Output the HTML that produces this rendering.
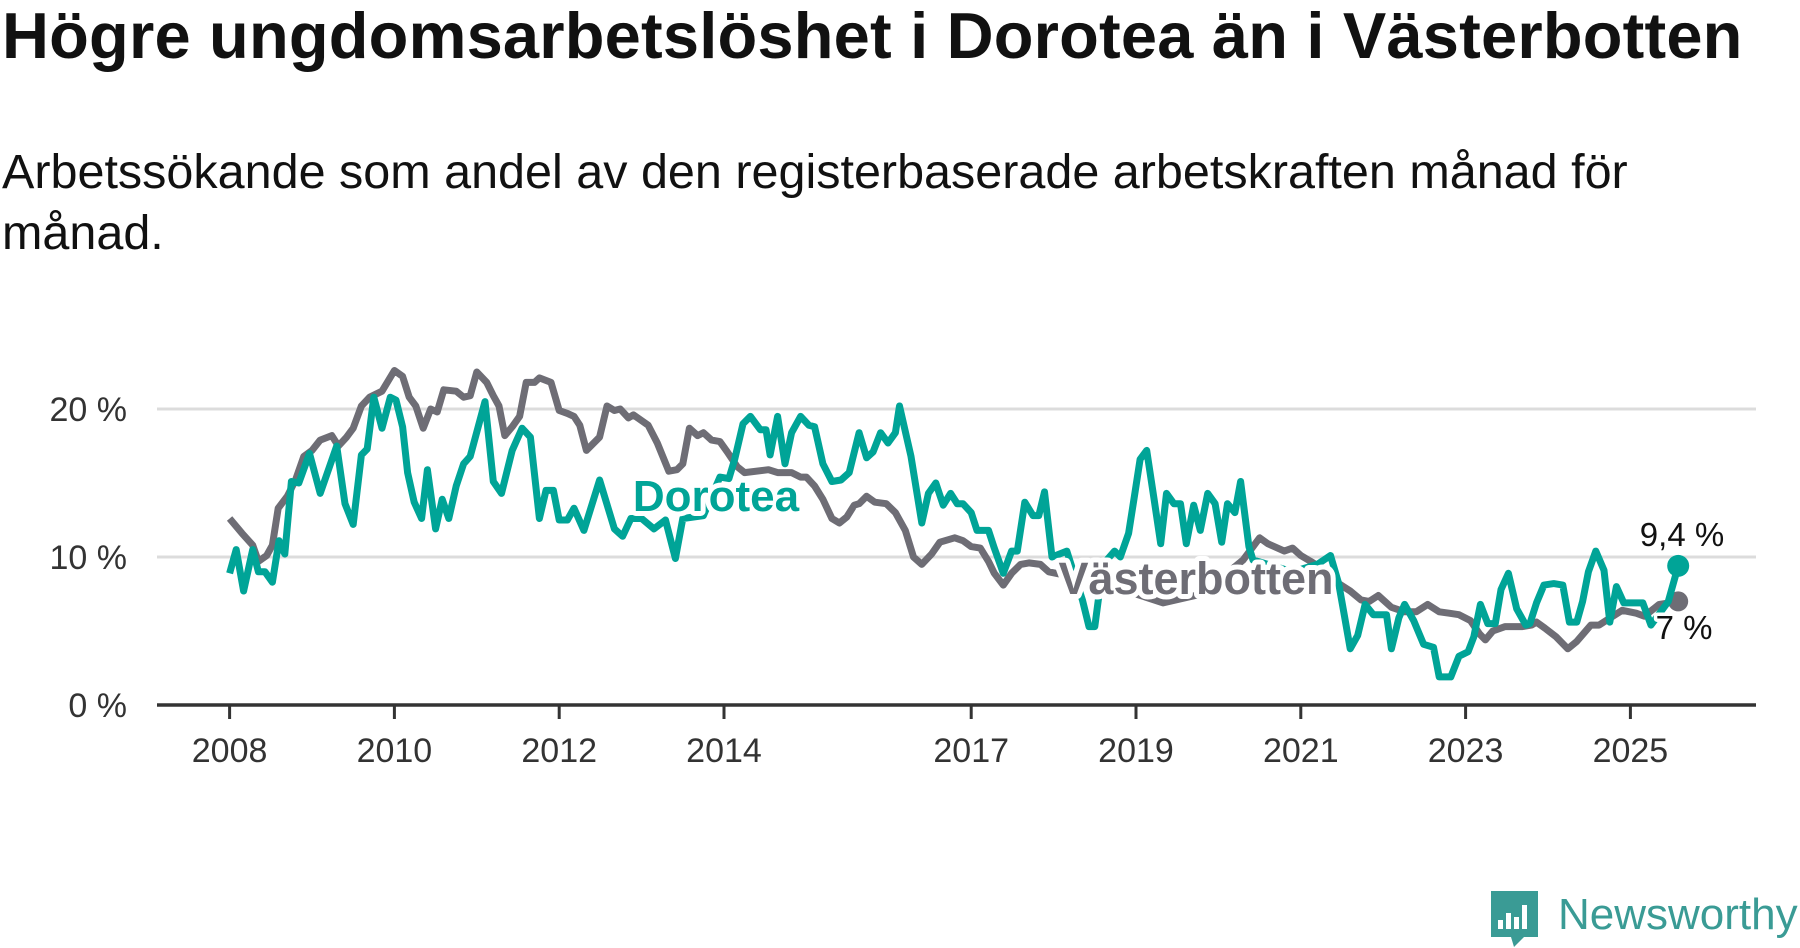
<!DOCTYPE html>
<html><head><meta charset="utf-8">
<style>
html,body{margin:0;padding:0;background:#fff;}
body{width:1800px;height:948px;overflow:hidden;position:relative;font-family:"Liberation Sans",sans-serif;}
#title{position:absolute;left:2px;top:-2px;font-size:65px;font-weight:bold;color:#111;white-space:nowrap;letter-spacing:0.2px;}
#subtitle{position:absolute;left:2px;top:142px;font-size:48.5px;line-height:61px;color:#111;white-space:nowrap;}
svg{position:absolute;left:0;top:0;}
</style></head>
<body>
<div id="title">Högre ungdomsarbetslöshet i Dorotea än i Västerbotten</div>
<div id="subtitle">Arbetssökande som andel av den registerbaserade arbetskraften månad för<br>månad.</div>
<svg id="chart" width="1800" height="948"></svg>
<script>
const yTicks=[0,10,20];
const yTickLabels=["0 %","10 %","20 %"];
const xTicks=[2008,2010,2012,2014,2017,2019,2021,2023,2025];
const grayDates=[2008.0,2008.15,2008.28,2008.35,2008.45,2008.52,2008.59,2008.7,2008.8,2008.9,2009.0,2009.1,2009.24,2009.32,2009.42,2009.5,2009.6,2009.7,2009.85,2010.0,2010.1,2010.18,2010.26,2010.35,2010.44,2010.52,2010.6,2010.75,2010.84,2010.92,2011.0,2011.12,2011.2,2011.27,2011.34,2011.43,2011.52,2011.6,2011.7,2011.76,2011.9,2012.0,2012.1,2012.18,2012.25,2012.33,2012.49,2012.58,2012.67,2012.74,2012.84,2012.9,2013.08,2013.19,2013.33,2013.43,2013.5,2013.58,2013.68,2013.75,2013.85,2013.95,2014.04,2014.16,2014.25,2014.54,2014.65,2014.82,2014.93,2015.0,2015.1,2015.2,2015.31,2015.4,2015.49,2015.58,2015.64,2015.73,2015.83,2015.97,2016.08,2016.2,2016.3,2016.4,2016.52,2016.62,2016.8,2016.9,2017.0,2017.11,2017.21,2017.28,2017.39,2017.49,2017.6,2017.7,2017.84,2017.94,2018.2,2018.6,2019.0,2019.33,2019.8,2020.3,2020.5,2020.6,2020.8,2020.9,2021.0,2021.15,2021.46,2021.6,2021.73,2021.83,2021.94,2022.1,2022.26,2022.4,2022.54,2022.68,2022.8,2022.92,2023.06,2023.17,2023.24,2023.33,2023.48,2023.69,2023.8,2023.86,2023.96,2024.1,2024.24,2024.35,2024.52,2024.62,2024.76,2024.9,2025.07,2025.17,2025.35,2025.58];
const grayValues=[12.6,11.6,10.8,9.7,10.1,10.8,13.3,14.1,15.2,16.8,17.2,17.9,18.2,17.5,18.1,18.7,20.2,20.8,21.2,22.6,22.2,20.8,20.2,18.7,20,19.8,21.3,21.2,20.8,20.9,22.5,21.8,20.9,20.2,18.2,18.8,19.5,21.8,21.8,22.1,21.8,19.9,19.7,19.5,18.9,17.2,18.1,20.2,19.9,20,19.4,19.6,18.9,17.7,15.8,15.9,16.3,18.7,18.2,18.4,17.9,17.8,17.1,16.1,15.7,15.9,15.7,15.7,15.4,15.4,14.8,13.9,12.6,12.3,12.7,13.5,13.6,14.1,13.7,13.6,13,11.8,10,9.5,10.2,11,11.3,11.1,10.7,10.6,9.7,8.9,8.1,8.9,9.5,9.6,9.5,9,8.7,8,7.5,6.9,7.5,9.8,11.3,10.9,10.4,10.6,10.1,9.6,8.2,7.7,7.1,7,7.4,6.6,6.3,6.3,6.8,6.3,6.2,6.1,5.7,4.8,4.4,5,5.3,5.3,5.4,5.6,5.2,4.6,3.8,4.3,5.4,5.4,5.9,6.4,6.2,6,6.8,7];
const tealDates=[2008.0,2008.08,2008.17,2008.28,2008.35,2008.43,2008.52,2008.6,2008.67,2008.75,2008.84,2008.97,2009.1,2009.3,2009.4,2009.5,2009.6,2009.67,2009.75,2009.85,2009.95,2010.02,2010.1,2010.16,2010.24,2010.33,2010.4,2010.5,2010.58,2010.66,2010.75,2010.84,2010.92,2011.1,2011.2,2011.3,2011.43,2011.55,2011.65,2011.76,2011.84,2011.93,2012.0,2012.1,2012.18,2012.3,2012.49,2012.67,2012.77,2012.87,2013.0,2013.15,2013.29,2013.41,2013.5,2013.75,2013.95,2014.06,2014.13,2014.23,2014.32,2014.44,2014.51,2014.56,2014.65,2014.74,2014.82,2014.93,2015.03,2015.1,2015.2,2015.31,2015.42,2015.52,2015.64,2015.73,2015.81,2015.9,2015.99,2016.08,2016.13,2016.27,2016.4,2016.48,2016.57,2016.66,2016.75,2016.83,2016.9,2017.0,2017.07,2017.21,2017.28,2017.39,2017.49,2017.56,2017.65,2017.75,2017.82,2017.89,2017.98,2018.16,2018.35,2018.43,2018.5,2018.6,2018.74,2018.81,2018.91,2018.98,2019.05,2019.13,2019.22,2019.3,2019.37,2019.46,2019.54,2019.61,2019.7,2019.78,2019.87,2019.96,2020.04,2020.11,2020.2,2020.27,2020.37,2020.42,2020.6,2020.9,2021.2,2021.36,2021.46,2021.53,2021.6,2021.69,2021.78,2021.88,2022.04,2022.1,2022.19,2022.26,2022.37,2022.49,2022.61,2022.68,2022.82,2022.92,2023.03,2023.1,2023.18,2023.27,2023.36,2023.43,2023.52,2023.62,2023.73,2023.78,2023.86,2023.95,2024.07,2024.18,2024.26,2024.35,2024.42,2024.49,2024.58,2024.68,2024.75,2024.83,2024.92,2025.04,2025.15,2025.25,2025.46,2025.58];
const tealValues=[8.9,10.5,7.7,10.5,9,9,8.3,11.1,10.2,15.1,15,17,14.3,17.5,13.6,12.2,16.9,17.3,20.8,18.7,20.8,20.6,18.8,15.7,13.7,12.6,15.9,11.9,13.9,12.6,14.8,16.3,16.8,20.5,15.1,14.3,17.2,18.7,18.1,12.6,14.5,14.5,12.5,12.5,13.3,11.8,15.2,11.9,11.4,12.6,12.6,11.9,12.5,9.9,12.6,12.8,15.4,15.3,16.6,19,19.5,18.6,18.6,16.9,19.5,16.3,18.4,19.5,18.9,18.8,16.3,15.1,15.2,15.7,18.4,16.7,17.1,18.4,17.7,18.4,20.2,16.8,12.3,14.3,15,13.5,14.3,13.6,13.6,13,11.8,11.8,10.6,8.9,10.4,10.4,13.7,12.8,12.8,14.4,10,10.4,7.1,5.3,5.3,9.5,10.4,10,11.6,14.1,16.6,17.2,13.9,10.9,14.3,13.6,13.6,10.9,13.5,11.8,14.3,13.6,11,13.6,13,15.1,10.7,9.8,9.5,9,9.5,10.1,8.2,6,3.8,4.7,6.8,6.1,6.1,3.8,5.9,6.8,5.7,4.1,3.9,1.9,1.9,3.3,3.6,4.6,6.8,5.5,5.5,7.8,8.9,6.5,5.4,5.5,6.9,8.1,8.2,8.1,5.6,5.6,7,9,10.4,9.1,5.6,8,6.9,6.9,6.9,5.4,7,9.4];

const NS='http://www.w3.org/2000/svg';
const svg=document.getElementById('chart');
const x0=229.6,pxYear=82.4,yBase=705,pxUnit=14.8;
function xs(t){return x0+(t-2008)*pxYear;}
function ys(v){return yBase-v*pxUnit;}
function mk(tag,attrs,parent){const e=document.createElementNS(NS,tag);for(const k in attrs)e.setAttribute(k,attrs[k]);(parent||svg).appendChild(e);return e;}

yTicks.forEach((v,i)=>{
  if(v>0){
    const g=mk('line',{x1:157,x2:1756,y1:ys(v),y2:ys(v),stroke:'#dcdcdc','stroke-width':3});
    
    
  }
  const t=mk('text',{x:127,y:ys(v)+12,'text-anchor':'end','font-size':34,fill:'#333','font-family':'Liberation Sans, sans-serif'});
  t.textContent=yTickLabels[i];
  
  
});
const ax=mk('line',{x1:157,x2:1756,y1:yBase,y2:yBase,stroke:'#333','stroke-width':3.5});


xTicks.forEach(yr=>{
  const tk=mk('line',{x1:xs(yr),x2:xs(yr),y1:yBase,y2:yBase+14,stroke:'#333','stroke-width':3});
  
  
  const t=mk('text',{x:xs(yr),y:762,'text-anchor':'middle','font-size':34,fill:'#333','font-family':'Liberation Sans, sans-serif'});
  t.textContent=String(yr);
  
  
});
function pathFor(d,v){return d.map((t,i)=>(i?'L':'M')+xs(t).toFixed(1)+','+ys(v[i]).toFixed(1)).join('');}
const gl=mk('path',{d:pathFor(grayDates,grayValues),fill:'none',stroke:'#6e6d75','stroke-width':7,'stroke-linejoin':'round'});


const gd=mk('circle',{cx:xs(grayDates[grayDates.length-1]),cy:ys(grayValues[grayValues.length-1]),r:10,fill:'#6e6d75'});


const tl=mk('path',{d:pathFor(tealDates,tealValues),fill:'none',stroke:'#00a497','stroke-width':7,'stroke-linejoin':'round'});


const td=mk('circle',{cx:xs(tealDates[tealDates.length-1]),cy:ys(tealValues[tealValues.length-1]),r:11,fill:'#00a497'});



function label(txt,x,y,size,fill,bold,name){
  const t=mk('text',{x:x,y:y,'text-anchor':'middle','font-size':size,fill:fill,'font-weight':bold?'bold':'normal',stroke:'#fff','stroke-width':bold?10:7,'paint-order':'stroke','stroke-linejoin':'round','font-family':'Liberation Sans, sans-serif'});
  t.textContent=txt;
  
  
}
label('Dorotea',716,511,44,'#00a497',true,'dorotea-series-label');
label('Västerbotten',1196,594,45,'#6e6d75',true,'vasterbotten-series-label');
label('9,4 %',1682,546,33,'#111',false,'dorotea-end-value');
label('7 %',1684,639,33,'#111',false,'vasterbotten-end-value');

const lg=mk('g',{});


mk('path',{d:'M1491,891 h47 v46 h-14 l-10,10 l-3,-10 h-20 z',fill:'#3a9b95'},lg);
[[1498,920,5],[1506,913,5],[1514,917,5],[1522,905,5]].forEach(b=>mk('rect',{x:b[0],y:b[1],width:b[2],height:929-b[1],fill:'#fff'},lg));
const lt=mk('text',{x:1558,y:929,'font-size':44,fill:'#3a9b95','font-family':'Liberation Sans, sans-serif'},lg);
lt.textContent='Newsworthy';
</script>
</body></html>
